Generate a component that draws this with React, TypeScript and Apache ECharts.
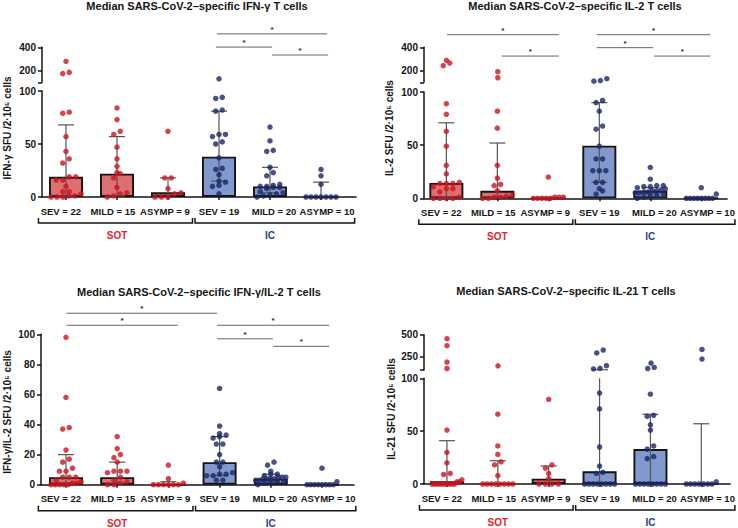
import React, { useEffect, useRef } from "react";
import * as echarts from "echarts";

// ---------- text ----------
const groupLabels = ["SEV = 22", "MILD = 15", "ASYMP = 9", "SEV = 19", "MILD = 20", "ASYMP = 10"];
const cohortLabels = ["SOT", "IC"];

// ---------- Panel 1: IFN-γ ----------
const ifngSotSev = [280, 185, 175, 80, 79, 57, 43, 36, 32, 19, 19, 16, 16, 10, 5, 5, 3, 1, 1, 0, 0, 0];
const ifngSotMild = [84, 73, 62, 59, 47, 36, 29, 23, 22, 18, 9, 4, 3, 1, 0];
const ifngSotAsymp = [62, 18, 18, 8, 4, 3, 0, 0, 0];
const ifngIcSev = [130, 94, 93, 82, 81, 59, 59, 57, 52, 50, 37, 27, 26, 21, 15, 14, 11, 10, 3];
const ifngIcMild = [66, 53, 44, 43, 28, 23, 20, 12, 11, 10, 10, 9, 9, 8, 5, 4, 3, 2, 1, 0];
const ifngIcAsymp = [26, 20, 12, 0, 0, 0, 0, 0, 0, 0];
const ifngMedian = [19, 22, 4.5, 38, 10, 0];
const ifngErrLow = [1, 1, 0, 15, 4, 0];
const ifngErrHigh = [68, 57, 18, 81, 28, 14];
const ifngSig = [[2.96, 5.12, 515], [2.94, 4.04, 402], [4.04, 5.14, 334]];
const ifngUpperTicks = [200, 400];

// ---------- Panel 2: IL-2 ----------
const il2SotSev = [287, 265, 242, 89, 79, 63, 49, 31, 23, 15, 14, 14, 14, 11, 9, 9, 6, 1, 0, 0, 0, 0];
const il2SotMild = [191, 139, 82, 66, 31, 19, 13, 12, 7, 3, 2, 1, 1, 0, 0];
const il2SotAsymp = [20, 1, 1, 1, 0, 0, 0, 0, 0];
const il2IcSev = [131, 115, 110, 92, 90, 82, 68, 65, 49, 37, 37, 26, 26, 26, 15, 15, 9, 7, 4];
const il2IcMild = [29, 18, 12, 12, 11, 11, 10, 9, 8, 7, 7, 6, 6, 5, 5, 4, 3, 2, 1, 0];
const il2IcAsymp = [10, 4, 0, 0, 0, 0, 0, 0, 0, 0];
const il2Median = [14.5, 7, 0, 49.5, 7, 0];
const il2ErrLow = [1, 1, 0, 15, 4, 0];
const il2ErrHigh = [71, 52, 1, 90, 10, 1];
const il2Sig = [[0.01, 2.19, 508], [1.08, 2.19, 325], [2.93, 5.14, 508], [2.93, 4.03, 397], [4.05, 5.14, 325]];
const il2UpperTicks = [200, 400];

// ---------- Panel 3: IFN-γ/IL-2 ----------
const dualSotSev = [98, 58, 38, 37, 23, 17, 15, 11, 9, 9, 5, 5, 5, 3, 2, 1, 1, 0, 0, 0, 0, 0];
const dualSotMild = [32, 24, 20, 18, 15, 9, 9, 9, 8, 5, 3, 2, 1, 0, 0];
const dualSotAsymp = [13, 4, 1, 0, 0, 0, 0, 0, 0];
const dualIcSev = [64, 39, 34, 33, 32, 31, 27, 27, 20, 15, 15, 12, 8, 7, 7, 6, 6, 3, 3];
const dualIcMild = [15, 13, 9, 7, 7, 6, 5, 5, 5, 4, 4, 4, 4, 3, 3, 2, 2, 1, 1, 0];
const dualIcAsymp = [11, 2, 0, 0, 0, 0, 0, 0, 0, 0];
const dualMedian = [5, 5, 0, 15, 4, 0];
const dualErrLow = [1, 1, 0, 6, 2, 0];
const dualErrHigh = [20, 15, 2, 32, 7, 0.5];
const dualSig = [[0.01, 2.95, 114], [0.01, 2.18, 106], [2.95, 5.14, 106], [2.95, 4.04, 97], [4.05, 5.14, 92]];

// ---------- Panel 4: IL-21 ----------
const il21SotSev = [455, 375, 189, 117, 51, 30, 20, 10, 9, 4, 2, 2, 0, 0, 0, 0, 0, 0, 0, 0, 0, 0];
const il21SotMild = [148, 66, 36, 28, 21, 18, 8, 0, 0, 0, 0, 0, 0, 0, 0];
const il21SotAsymp = [80, 18, 15, 10, 5, 0, 0, 0, 0];
const il21IcSev = [326, 293, 149, 119, 112, 86, 71, 35, 17, 11, 10, 0, 0, 0, 0, 0, 0, 0, 0];
const il21IcMild = [178, 129, 117, 85, 65, 64, 56, 51, 36, 33, 26, 24, 0, 0, 0, 0, 0, 0, 0, 0];
const il21IcAsymp = [333, 224, 2, 0, 0, 0, 0, 0, 0, 0];
const il21Median = [2.5, 0, 5, 12, 33, 0];
const il21ErrLow = [0, 0, 0, 0, 0, 0];
const il21ErrHigh = [41, 22, 17, 103, 66, 57];
const il21Sig: number[][] = [];
const il21UpperTicks = [250, 500];

// cohort bracket spans [from, to, label position] in category units
const cohortSpans = [[-0.54, 2.48, 1], [2.53, 5.66, 4]];
// where the group labels sit along the axis (category units)
const labelSlots = [-0.1, 0.92, 1.94, 3.0, 4.08, 5.12];

const panels = [
  {
    title: "Median SARS-CoV-2–specific IFN-γ T cells",
    yName: "IFN-γ SFU /2·10⁵ cells",
    groups: [ifngSotSev, ifngSotMild, ifngSotAsymp, ifngIcSev, ifngIcMild, ifngIcAsymp],
    median: ifngMedian, lo: ifngErrLow, hi: ifngErrHigh, sig: ifngSig,
    lowMax: 100, lowStep: 50, upMax: 400, upTicks: ifngUpperTicks,
  },
  {
    title: "Median SARS-CoV-2–specific IL-2 T cells",
    yName: "IL-2 SFU /2·10⁵ cells",
    groups: [il2SotSev, il2SotMild, il2SotAsymp, il2IcSev, il2IcMild, il2IcAsymp],
    median: il2Median, lo: il2ErrLow, hi: il2ErrHigh, sig: il2Sig,
    lowMax: 100, lowStep: 50, upMax: 400, upTicks: il2UpperTicks,
  },
  {
    title: "Median SARS-CoV-2–specific IFN-γ/IL-2 T cells",
    yName: "IFN-γ/IL-2 SFU /2·10⁵ cells",
    groups: [dualSotSev, dualSotMild, dualSotAsymp, dualIcSev, dualIcMild, dualIcAsymp],
    median: dualMedian, lo: dualErrLow, hi: dualErrHigh, sig: dualSig,
    lowMax: 100, lowStep: 20, upMax: 0, upTicks: [] as number[],
  },
  {
    title: "Median SARS-CoV-2–specific IL-21 T cells",
    yName: "IL-21 SFU /2·10⁵ cells",
    groups: [il21SotSev, il21SotMild, il21SotAsymp, il21IcSev, il21IcMild, il21IcAsymp],
    median: il21Median, lo: il21ErrLow, hi: il21ErrHigh, sig: il21Sig,
    lowMax: 100, lowStep: 50, upMax: 500, upTicks: il21UpperTicks,
  },
];

// ---------- layout (pixels) ----------
const layouts = [
  { left: 42, right: 356, c0: 66, c5: 321, lowTop: 91, lowBot: 197, upTop: 47.3, upBot: 82.3, titleX: 197, titleY: 6, nameX: 7, nameY: 128 },
  { left: 424, right: 729, c0: 446.5, c5: 703, lowTop: 92, lowBot: 198.3, upTop: 47.3, upBot: 82.3, titleX: 575, titleY: 6, nameX: 389, nameY: 128 },
  { left: 41, right: 354, c0: 66, c5: 322, lowTop: 334.3, lowBot: 484.7, upTop: 0, upBot: 0, titleX: 199, titleY: 292, nameX: 7, nameY: 412 },
  { left: 424, right: 731, c0: 447, c5: 702, lowTop: 378.3, lowBot: 484, upTop: 334.7, upBot: 370, titleX: 566, titleY: 291, nameX: 391, nameY: 409 },
];

const FONT = '"Liberation Sans", Arial, Helvetica, sans-serif';
const INK = "#151515";
const SOT_DOT = "#cc1420";
const IC_DOT = "#1c2666";
const SOT_BAR = "#de7072";
const IC_BAR = "#8199cc";
const SOT_TXT = "#e0262c";
const IC_TXT = "#2d3d8e";
const ERR = "#555555";
const SIG = "#666666";
const BAR_W = 34;
const DOT = 5.5;
const CAP = 8;

function swarm(vals: number[], pxPerUnit: number): number[] {
  const order = vals.map((_, i) => i).sort((a, b) => vals[a] - vals[b]);
  const offs = new Array(vals.length).fill(0);
  let i = 0;
  while (i < order.length) {
    const base = vals[order[i]] * pxPerUnit;
    const row = [order[i]];
    let j = i + 1;
    while (j < order.length && vals[order[j]] * pxPerUnit - base < 4.5) {
      row.push(order[j]);
      j++;
    }
    const n = row.length;
    const sp = n > 1 ? Math.min(6.5, 30 / (n - 1)) : 0;
    row.forEach((k, m) => (offs[k] = (m - (n - 1) / 2) * sp));
    i = j;
  }
  return offs;
}

const errRender = (params: any, api: any) => {
  const x = api.value(0);
  const a = api.coord([x, api.value(1)]);
  const b = api.coord([x, api.value(2)]);
  const st = () => ({ stroke: ERR, lineWidth: 1.2 });
  const children: any[] = [
    { type: "line", shape: { x1: a[0], y1: a[1], x2: b[0], y2: b[1] }, style: st() },
  ];
  if (api.value(3)) children.push({ type: "line", shape: { x1: b[0] - CAP, y1: b[1], x2: b[0] + CAP, y2: b[1] }, style: st() });
  if (api.value(4)) children.push({ type: "line", shape: { x1: a[0] - CAP, y1: a[1], x2: a[0] + CAP, y2: a[1] }, style: st() });
  return { type: "group", children };
};

const sigRender = (params: any, api: any) => {
  const a = api.coord([api.value(0), api.value(2)]);
  const b = api.coord([api.value(1), api.value(2)]);
  return {
    type: "group",
    children: [
      { type: "line", shape: { x1: a[0], y1: a[1], x2: b[0], y2: b[1] }, style: { stroke: SIG, lineWidth: 1 } },
      {
        type: "text",
        x: (a[0] + b[0]) / 2,
        y: a[1] - 0.5,
        style: { text: "*", fill: "#222", font: `bold 8px ${FONT}`, textAlign: "center", textVerticalAlign: "bottom" },
      },
    ],
  };
};

const cohortRender = (params: any, api: any) => {
  const p1 = api.coord([api.value(0), 0]);
  const p2 = api.coord([api.value(1), 0]);
  const pm = api.coord([api.value(2), 0]);
  const y0 = p1[1];
  const col = params.dataIndex === 0 ? SOT_TXT : IC_TXT;
  return {
    type: "group",
    children: [
      {
        type: "polyline",
        shape: { points: [[p1[0], y0 + 21], [p1[0], y0 + 26], [p2[0], y0 + 26], [p2[0], y0 + 21]] },
        style: { stroke: INK, lineWidth: 1.5, fill: "none" },
      },
      {
        type: "text",
        x: pm[0],
        y: y0 + 38.5,
        style: { text: cohortLabels[params.dataIndex], fill: col, font: `bold 10px ${FONT}`, textAlign: "center", textVerticalAlign: "middle" },
      },
    ],
  };
};

function buildOption() {
  const grid: any[] = [];
  const xAxis: any[] = [];
  const yAxis: any[] = [];
  const series: any[] = [];
  const graphic: any[] = [];
  const axisLine = { show: true, onZero: false, lineStyle: { color: INK, width: 1.5 } };
  const tickStyle = { color: INK, width: 1.5 };
  const labelStyle = { color: INK, fontWeight: "bold", fontSize: 10, fontFamily: FONT };
  const cats = [0, 1, 2, 3, 4, 5];
  const slotLabel = (v: number) => {
    let best = 0;
    labelSlots.forEach((s, i) => {
      if (Math.abs(s - v) < Math.abs(labelSlots[best] - v)) best = i;
    });
    return groupLabels[best];
  };

  panels.forEach((p, pi) => {
    const L = layouts[pi];
    const s = (L.c5 - L.c0) / 5;
    const xMin = -(L.c0 - L.left) / s;
    const xMax = 5 + (L.right - L.c5) / s;
    const hasUp = p.upMax > 0;

    const lowIdx = grid.length;
    grid.push({ left: L.left, top: L.lowTop, width: L.right - L.left, height: L.lowBot - L.lowTop });
    xAxis.push({
      type: "value", gridIndex: lowIdx, min: xMin, max: xMax,
      axisLine,
      axisTick: { show: true, customValues: cats, length: 3, lineStyle: tickStyle },
      axisLabel: {
        ...labelStyle, fontSize: 9.5, customValues: labelSlots, margin: 9,
        hideOverlap: false, showMinLabel: true, showMaxLabel: true,
        formatter: slotLabel,
      },
      splitLine: { show: false },
    });
    yAxis.push({
      type: "value", gridIndex: lowIdx, min: 0, max: p.lowMax, interval: p.lowStep,
      axisLine,
      axisTick: { show: true, length: 4, lineStyle: tickStyle },
      axisLabel: { ...labelStyle, margin: 6 },
      splitLine: { show: false },
    });

    let upIdx = -1;
    if (hasUp) {
      upIdx = grid.length;
      grid.push({ left: L.left, top: L.upTop, width: L.right - L.left, height: L.upBot - L.upTop });
      xAxis.push({ type: "value", gridIndex: upIdx, min: xMin, max: xMax, show: false, splitLine: { show: false } });
      yAxis.push({
        type: "value", gridIndex: upIdx, min: p.lowMax, max: p.upMax,
        axisLine,
        axisTick: { show: true, length: 4, customValues: [p.lowMax, ...p.upTicks], lineStyle: tickStyle },
        axisLabel: { ...labelStyle, margin: 6, customValues: p.upTicks },
        splitLine: { show: false },
      });
    }

    const lowPx = (L.lowBot - L.lowTop) / p.lowMax;
    const upPx = hasUp ? (L.upBot - L.upTop) / (p.upMax - p.lowMax) : 0;

    // bars (medians)
    series.push({
      type: "bar", xAxisIndex: lowIdx, yAxisIndex: lowIdx, barWidth: BAR_W, silent: true, z: 2,
      itemStyle: { borderColor: INK, borderWidth: 1.9 },
      data: p.median.map((m, i) => ({ value: [i, m], itemStyle: { color: i < 3 ? SOT_BAR : IC_BAR } })),
    });

    // error bars
    series.push({
      type: "custom", xAxisIndex: lowIdx, yAxisIndex: lowIdx, clip: false, silent: true, z: 3,
      renderItem: errRender,
      data: p.median.map((_, i) => [i, p.lo[i], Math.min(p.hi[i], p.lowMax), p.hi[i] <= p.lowMax ? 1 : 0, p.lo[i] > 0 ? 1 : 0]),
    });
    if (hasUp) {
      const upErr = p.hi.map((h, i) => [i, p.lowMax, h, 1, 0]).filter((d) => d[2] > p.lowMax);
      if (upErr.length)
        series.push({ type: "custom", xAxisIndex: upIdx, yAxisIndex: upIdx, clip: false, silent: true, z: 3, renderItem: errRender, data: upErr });
    }

    // individual points
    const lowPts: any[] = [];
    const upPts: any[] = [];
    p.groups.forEach((vals, gi) => {
      const color = gi < 3 ? SOT_DOT : IC_DOT;
      const lowVals = vals.filter((v) => !hasUp || v <= p.lowMax);
      const upVals = hasUp ? vals.filter((v) => v > p.lowMax) : [];
      swarm(lowVals, lowPx).forEach((dx, k) => lowPts.push({ value: [gi, lowVals[k]], symbolOffset: [dx, 0], itemStyle: { color } }));
      swarm(upVals, upPx).forEach((dx, k) => upPts.push({ value: [gi, upVals[k]], symbolOffset: [dx, 0], itemStyle: { color } }));
    });
    series.push({ type: "scatter", xAxisIndex: lowIdx, yAxisIndex: lowIdx, symbolSize: DOT, clip: false, silent: true, z: 4, data: lowPts });
    if (hasUp) series.push({ type: "scatter", xAxisIndex: upIdx, yAxisIndex: upIdx, symbolSize: DOT, clip: false, silent: true, z: 4, data: upPts });

    // significance bars
    if (p.sig.length) {
      const top = hasUp ? upIdx : lowIdx;
      series.push({ type: "custom", xAxisIndex: top, yAxisIndex: top, clip: false, silent: true, z: 5, renderItem: sigRender, data: p.sig });
    }

    // cohort brackets
    series.push({ type: "custom", xAxisIndex: lowIdx, yAxisIndex: lowIdx, clip: false, silent: true, z: 5, renderItem: cohortRender, data: cohortSpans });

    // titles & axis names
    graphic.push({
      type: "text", x: L.titleX, y: L.titleY, silent: true,
      style: { text: p.title, fill: INK, font: `bold 11px ${FONT}`, textAlign: "center", textVerticalAlign: "middle" },
    });
    graphic.push({
      type: "text", x: L.nameX, y: L.nameY, rotation: Math.PI / 2, silent: true,
      style: { text: p.yName, fill: INK, font: `bold 10px ${FONT}`, textAlign: "center", textVerticalAlign: "middle" },
    });
  });

  return { animation: false, backgroundColor: "#ffffff", grid, xAxis, yAxis, series, graphic };
}

export default function App() {
  const ref = useRef<HTMLDivElement>(null);
  useEffect(() => {
    if (!ref.current) return;
    const chart = echarts.init(ref.current, undefined, { renderer: "svg" });
    chart.setOption(buildOption() as any);
    return () => chart.dispose();
  }, []);
  return <div ref={ref} style={{ position: "fixed", left: 0, top: 0, width: 738, height: 528, background: "#fff" }} />;
}
